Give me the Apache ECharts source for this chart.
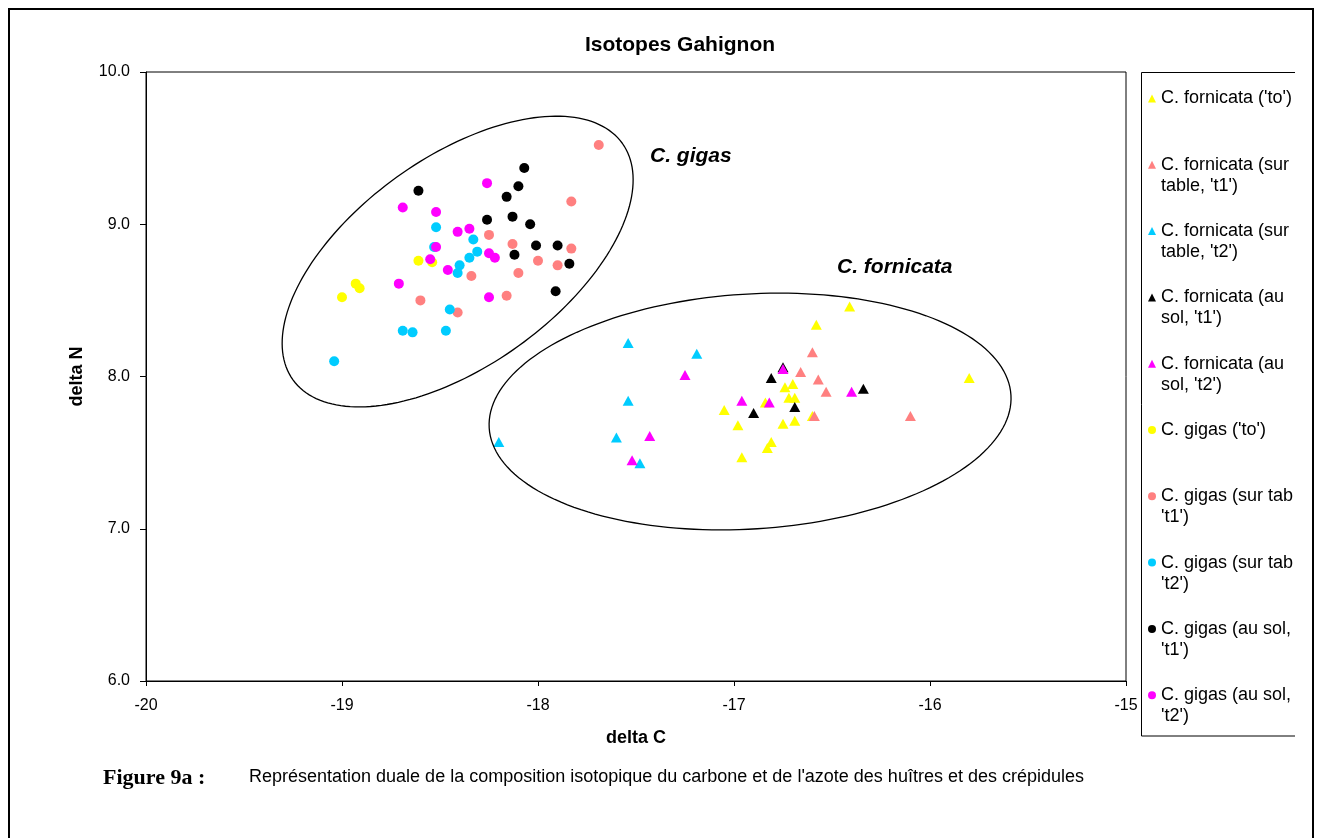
<!DOCTYPE html>
<html>
<head>
<meta charset="utf-8">
<title>Isotopes Gahignon</title>
<script src="https://cdn.jsdelivr.net/npm/echarts@6/dist/echarts.min.js"></script>
<style>
  html, body { margin: 0; padding: 0; background: #fff; }
  #chart { width: 1320px; height: 838px; }
</style>
</head>
<body>
<div id="chart"></div>
<script>
// delta C / delta N pairs for each group
const fornicataTo = [
  [-16.41, 8.46], [-16.58, 8.34], [-15.80, 7.99], [-16.74, 7.93], [-16.70, 7.95],
  [-16.72, 7.86], [-16.69, 7.86], [-17.05, 7.78], [-16.84, 7.83], [-16.98, 7.68],
  [-16.75, 7.69], [-16.69, 7.71], [-16.60, 7.74], [-16.81, 7.57], [-16.83, 7.53],
  [-16.96, 7.47]
];
const fornicataTableT1 = [
  [-16.60, 8.16], [-16.66, 8.03], [-16.57, 7.98], [-16.53, 7.90], [-16.59, 7.74], [-16.10, 7.74]
];
const fornicataTableT2 = [
  [-17.54, 8.22], [-17.19, 8.15], [-17.54, 7.84], [-17.60, 7.60], [-18.20, 7.57], [-17.48, 7.43]
];
const fornicataSolT1 = [
  [-16.81, 7.99], [-16.75, 8.06], [-16.90, 7.76], [-16.69, 7.80], [-16.34, 7.92]
];
const fornicataSolT2 = [
  [-17.25, 8.01], [-17.43, 7.61], [-17.52, 7.45], [-16.96, 7.84], [-16.82, 7.83],
  [-16.75, 8.05], [-16.40, 7.90]
];
const gigasTo = [
  [-19.00, 8.52], [-18.93, 8.61], [-18.91, 8.58], [-18.61, 8.76], [-18.54, 8.75]
];
const gigasTableT1 = [
  [-17.69, 9.52], [-17.83, 9.15], [-18.25, 8.93], [-18.13, 8.87], [-17.83, 8.84],
  [-18.00, 8.76], [-17.90, 8.73], [-18.10, 8.68], [-18.34, 8.66], [-18.16, 8.53],
  [-18.60, 8.50], [-18.41, 8.42]
];
const gigasTableT2 = [
  [-18.52, 8.98], [-18.33, 8.90], [-18.31, 8.82], [-18.35, 8.78], [-18.40, 8.73],
  [-18.41, 8.68], [-18.53, 8.85], [-18.45, 8.44], [-18.69, 8.30], [-18.64, 8.29],
  [-18.47, 8.30], [-19.04, 8.10]
];
const gigasSolT1 = [
  [-18.07, 9.37], [-18.61, 9.22], [-18.10, 9.25], [-18.16, 9.18], [-18.26, 9.03],
  [-18.13, 9.05], [-18.04, 9.00], [-18.01, 8.86], [-17.90, 8.86], [-18.12, 8.80],
  [-17.84, 8.74], [-17.91, 8.56]
];
const gigasSolT2 = [
  [-18.26, 9.27], [-18.69, 9.11], [-18.52, 9.08], [-18.41, 8.95], [-18.35, 8.97],
  [-18.52, 8.85], [-18.25, 8.81], [-18.22, 8.78], [-18.55, 8.77], [-18.46, 8.70],
  [-18.71, 8.61], [-18.25, 8.52]
];

// series names as shown in the key (line breaks as wrapped there)
const seriesNames = [
  "C. fornicata ('to')",
  "C. fornicata (sur\ntable, 't1')",
  "C. fornicata (sur\ntable, 't2')",
  "C. fornicata (au\nsol, 't1')",
  "C. fornicata (au\nsol, 't2')",
  "C. gigas ('to')",
  "C. gigas (sur table,\n't1')",
  "C. gigas (sur table,\n't2')",
  "C. gigas (au sol,\n't1')",
  "C. gigas (au sol,\n't2')"
];
const seriesData = [
  fornicataTo, fornicataTableT1, fornicataTableT2, fornicataSolT1, fornicataSolT2,
  gigasTo, gigasTableT1, gigasTableT2, gigasSolT1, gigasSolT2
];
const seriesColors = ['#FFFF00', '#FF8080', '#00CCFF', '#000000', '#FF00FF',
                      '#FFFF00', '#FF8080', '#00CCFF', '#000000', '#FF00FF'];

// group outlines: centre, end of one half-diameter, end of the conjugate half-diameter
const groupOutlines = [
  [-18.41, 8.755, -17.57, 9.532, -18.10, 8.200],
  [-16.918, 7.770, -15.587, 7.878, -16.881, 7.000]
];

const xTicks = { min: -20, max: -15, interval: 1 };
const yTicks = { min: 6, max: 10, interval: 1 };

const SANS = "'Liberation Sans', Arial, Helvetica, sans-serif";
const SERIF = "'Liberation Serif', 'Times New Roman', serif";

const chart = echarts.init(document.getElementById('chart'), null, { renderer: 'canvas' });

const scatterSeries = seriesNames.map((name, i) => ({
  name: name,
  type: 'scatter',
  data: seriesData[i],
  symbol: i < 5 ? 'triangle' : 'circle',
  symbolSize: i < 5 ? [11, 10] : 10,
  itemStyle: { color: seriesColors[i], opacity: 1 },
  emphasis: { disabled: true },
  animation: false,
  z: 3
}));

const outlineSeries = {
  type: 'custom',
  data: groupOutlines,
  encode: { x: [0, 2, 4], y: [1, 3, 5] },
  silent: true,
  animation: false,
  z: 4,
  renderItem: function (params, api) {
    const c = api.coord([api.value(0), api.value(1)]);
    const m = api.coord([api.value(2), api.value(3)]);
    const n = api.coord([api.value(4), api.value(5)]);
    const u = [m[0] - c[0], m[1] - c[1]];
    const v = [n[0] - c[0], n[1] - c[1]];
    const pts = [];
    const steps = 180;
    for (let k = 0; k < steps; k++) {
      const t = 2 * Math.PI * k / steps;
      pts.push([c[0] + u[0] * Math.cos(t) + v[0] * Math.sin(t),
                c[1] + u[1] * Math.cos(t) + v[1] * Math.sin(t)]);
    }
    return {
      type: 'polygon',
      shape: { points: pts },
      style: { fill: null, stroke: '#000', lineWidth: 1.3 }
    };
  }
};

// Every key entry is laid out as three text lines centred on its marker, so the
// first line of the name always sits beside the marker and all entries share one pitch.
function keyLabel(name) {
  return name.indexOf('\n') >= 0 ? ' \n' + name : ' \n' + name + '\n ';
}

const option = {
  backgroundColor: '#fff',
  animation: false,
  textStyle: { fontFamily: SANS },
  grid: {
    left: 146, top: 72, right: 194, bottom: 157,
    show: true, borderColor: '#000', borderWidth: 1, backgroundColor: '#fff'
  },
  xAxis: {
    type: 'value',
    min: xTicks.min, max: xTicks.max, interval: xTicks.interval,
    name: 'delta C',
    nameLocation: 'middle',
    nameGap: 48,
    nameTextStyle: { fontFamily: SANS, fontSize: 18, fontWeight: 'bold', color: '#000' },
    axisLine: { onZero: false, lineStyle: { color: '#000', width: 1 } },
    axisTick: { show: true, length: 5, lineStyle: { color: '#000' } },
    axisLabel: { margin: 17, fontFamily: SANS, fontSize: 16, color: '#000',
                 formatter: v => String(v) },
    splitLine: { show: false }
  },
  yAxis: {
    type: 'value',
    min: yTicks.min, max: yTicks.max, interval: yTicks.interval,
    name: 'delta N',
    nameLocation: 'middle',
    nameRotate: 90,
    nameGap: 60,
    nameTextStyle: { fontFamily: SANS, fontSize: 18, fontWeight: 'bold', color: '#000' },
    axisLine: { onZero: false, lineStyle: { color: '#000', width: 1 } },
    axisTick: { show: true, length: 6, lineStyle: { color: '#000' } },
    axisLabel: { margin: 16, fontFamily: SANS, fontSize: 16, color: '#000',
                 formatter: v => v.toFixed(1) },
    splitLine: { show: false }
  },
  legend: {
    orient: 'vertical',
    left: 1148,
    top: 67,
    padding: 0,
    itemGap: 3.3,
    itemWidth: 8,
    itemHeight: 8,
    selectedMode: false,
    data: seriesNames,
    formatter: keyLabel,
    textStyle: {
      fontFamily: SANS, fontSize: 18, color: '#000', lineHeight: 21,
      width: 135, overflow: 'truncate', ellipsis: ''
    }
  },
  graphic: [
    // outer frame
    { type: 'polyline', silent: true, z: 10,
      shape: { points: [[9, 840], [9, 9], [1313, 9], [1313, 840]] },
      style: { stroke: '#000', lineWidth: 2, fill: null } },
    // key frame (open on the right)
    { type: 'polyline', silent: true, z: 10,
      shape: { points: [[1295, 72.5], [1141.5, 72.5], [1141.5, 736], [1295, 736]] },
      style: { stroke: '#000', lineWidth: 1, fill: null } },
    { type: 'text', silent: true, x: 680, y: 45,
      style: { text: 'Isotopes Gahignon', font: 'bold 21px ' + SANS, fill: '#000',
               textAlign: 'center', textVerticalAlign: 'middle' } },
    { type: 'text', silent: true, x: 650, y: 156,
      style: { text: 'C. gigas', font: 'italic bold 21px ' + SANS, fill: '#000',
               textAlign: 'left', textVerticalAlign: 'middle' } },
    { type: 'text', silent: true, x: 837, y: 267,
      style: { text: 'C. fornicata', font: 'italic bold 21px ' + SANS, fill: '#000',
               textAlign: 'left', textVerticalAlign: 'middle' } },
    { type: 'text', silent: true, x: 103, y: 778,
      style: { text: 'Figure 9a :', font: 'bold 22px ' + SERIF, fill: '#000',
               textAlign: 'left', textVerticalAlign: 'middle' } },
    { type: 'text', silent: true, x: 249, y: 777,
      style: { text: "Représentation duale de la composition isotopique du carbone et de l'azote des huîtres et des crépidules",
               font: '18px ' + SANS, fill: '#000',
               textAlign: 'left', textVerticalAlign: 'middle' } }
  ],
  series: [outlineSeries].concat(scatterSeries)
};

chart.setOption(option);
</script>
</body>
</html>
